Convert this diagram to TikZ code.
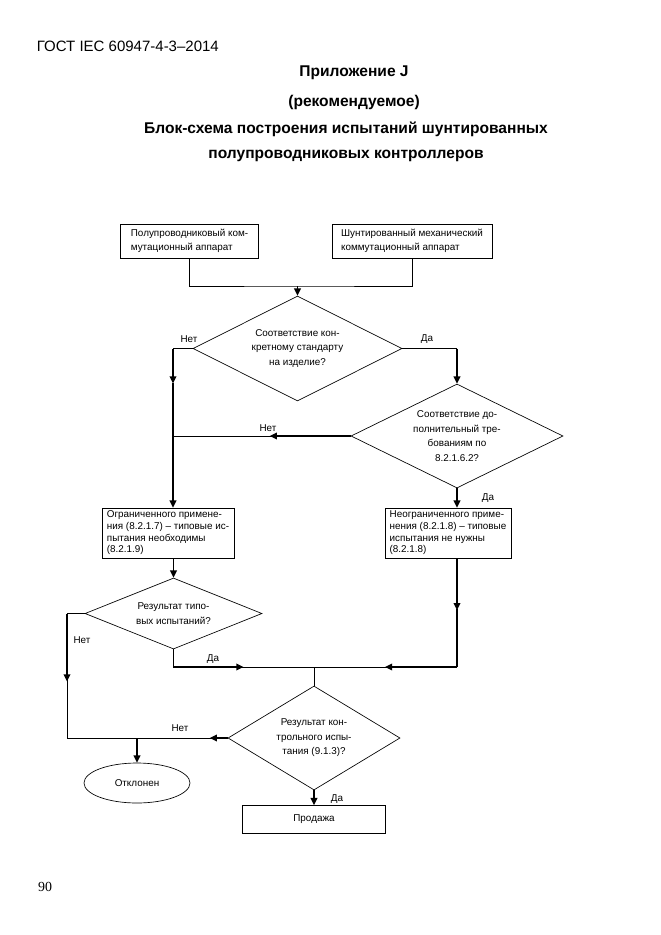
\documentclass[tikz,border=0pt]{standalone}
\usepackage{fontspec}
\setmainfont{Liberation Sans}
\newfontfamily\pagenumfont{Liberation Serif}
\usetikzlibrary{arrows.meta,calc,positioning,shapes.geometric}

\tikzset{
  box/.style={draw,rectangle,line width=0.6pt,inner xsep=4pt,inner ysep=1pt,align=left},
  tight/.style={font=\fontsize{8.9}{10.5}\selectfont},
  ask/.style={draw,diamond,aspect=2,line width=0.6pt,inner sep=0pt,align=center},
  flow/.style={line width=1.3pt,-{Triangle[length=6.5pt,width=6pt]}},
  link/.style={line width=0.6pt},
  head/.style={font=\fontsize{14}{16}\selectfont\bfseries}
}

\begin{document}
\begin{tikzpicture}[x=0.9pt,y=-0.9pt,font=\fontsize{8.9}{13}\selectfont]
  \useasboundingbox (0,0) rectangle (661,935);
  % page head
  \node[anchor=west,font=\fontsize{13.5}{16}\selectfont] (gost) at (33,46) {ГОСТ IEC 60947-4-3–2014};
  \node[head] (app) at (354,73) {Приложение J};
  \node[head] (rec) at (354,102) {(рекомендуемое)};
  \node[head] (tit1) at (346,129) {Блок-схема построения испытаний шунтированных};
  \node[head] (tit2) at (346,156) {полупроводниковых контроллеров};
  \node[font=\fontsize{12.5}{15}\pagenumfont] (page) at (45,887) {90};

  % boxes and decisions
  \node[box,minimum width=124.2pt,minimum height=30.6pt] (semi) at (189.5,241) {Полупроводниковый ком-\\мутационный аппарат};
  \node[box,minimum width=144pt,minimum height=30.6pt] (mech) at (412,241) {Шунтированный механический\\коммутационный аппарат};
  \node[ask,minimum width=188pt,minimum height=94.5pt] (std) at (297.5,348.5) {Соответствие кон-\\кретному стандарту\\на изделие?};
  \node[ask,minimum width=190.8pt,minimum height=93.6pt] (add) at (457,436) {Соответствие до-\\полнительный тре-\\бованиям по\\8.2.1.6.2?};
  \node[box,tight,minimum width=118.8pt,minimum height=45pt] (lim) at (168,533) {Ограниченного примене-\\ния (8.2.1.7) – типовые ис-\\пытания необходимы\\(8.2.1.9)};
  \node[box,tight,minimum width=113.4pt,minimum height=45pt] (unlim) at (448,533) {Неограниченного приме-\\нения (8.2.1.8) – типовые\\испытания не нужны\\(8.2.1.8)};
  \node[ask,minimum width=159.3pt,minimum height=63.9pt] (typ) at (173.5,613.5) {Результат типо-\\вых испытаний?};
  \node[ask,minimum width=154.8pt,minimum height=93.6pt] (ctl) at (314,738) {Результат кон-\\трольного испы-\\тания (9.1.3)?};
  \node[draw,ellipse,line width=0.6pt,minimum width=95.4pt,minimum height=36pt] (rej) at (137,783) {Отклонен};
  \node[box,align=center,minimum width=128.7pt,minimum height=25.2pt] (sale) at (314,819.5) {Продажа};

  % helper points
  \coordinate (join) at (297.5,286);
  \coordinate (nl) at (173,348.5);
  \coordinate (nr) at (457,348.5);
  \coordinate (mrow) at (0,667);
  \coordinate (merge) at (ctl.north |- mrow);
  \coordinate (typno) at (67,613.5);
  \coordinate (ctlno) at (typno |- ctl.west);
  \coordinate (rcol) at (add.south |- unlim.south);

  % top join
  \draw[link] (semi.south) |- (join) -| (mech.south);
  \draw[flow] (join) -- (std.north);
  % first decision
  \draw[link] (std.west) -- (nl);
  \draw[flow] (nl) -- ++(0,35);
  \draw[flow] ($(nl)+(0,34)$) -- (nl |- lim.north);
  \draw[link] (std.east) -- (nr);
  \draw[flow] (nr) -- (add.north);
  % second decision
  \draw[link] (add.west) -- (add.west -| nl);
  \draw[flow] (add.west) -- ++(-81,0);
  \draw[flow] (add.south) -- (add.south |- unlim.north);
  % type tests
  \draw[flow] (lim.south -| typ.north) -- (typ.north);
  \draw[link] (typ.west) -- (typno) -- (ctlno) -- (ctl.west);
  \draw[flow] (typno) -- ++(0,68);
  \draw[link] (typ.south) -- (typ.south |- mrow) -- (merge);
  \draw[flow] (typ.south |- mrow) -- ++(70,0);
  \draw[flow] (rcol) -- ++(0,52);
  \draw[link] (rcol |- mrow) -- (merge);
  \draw[line width=1.3pt] ($(rcol)+(0,51)$) -- (rcol |- mrow);
  \draw[flow] (rcol |- mrow) -- ++(-72,0);
  \draw[link] (merge) -- (ctl.north);
  % routine test
  \draw[flow] (ctl.west) -- ++(-18,0);
  \draw[flow] (rej.north |- ctl.west) -- (rej.north);
  \draw[flow] (ctl.south) -- (sale.north);

  % answers
  \node (no1) at (189,339) {Нет};
  \node (yes1) at (427,339) {Да};
  \node (no2) at (268,428) {Нет};
  \node (yes2) at (488,498) {Да};
  \node (no3) at (82,640) {Нет};
  \node (yes3) at (213,659) {Да};
  \node (no4) at (180,728) {Нет};
  \node (yes4) at (337,799) {Да};
\end{tikzpicture}
\end{document}
